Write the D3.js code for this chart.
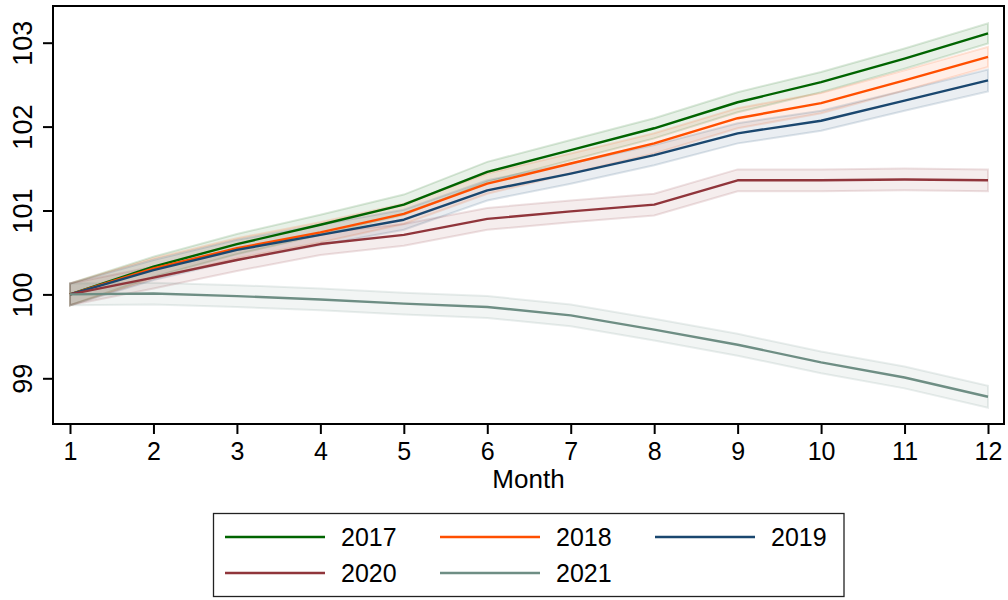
<!DOCTYPE html>
<html>
<head>
<meta charset="utf-8">
<script src="https://cdn.jsdelivr.net/npm/d3@7"></script>
<style>
  html, body { margin: 0; padding: 0; background: #fff; }
  svg { display: block; font-family: "Liberation Sans", Arial, sans-serif; }
</style>
</head>
<body>
<svg id="chart" width="1008" height="600"></svg>
<script>
// Monthly index (month 1 = 100) by year, with 95% confidence bands
const months = [1, 2, 3, 4, 5, 6, 7, 8, 9, 10, 11, 12];
const years = ["2017", "2018", "2019", "2020", "2021"];

const idx2017 = [100, 100.33, 100.60, 100.83, 101.07, 101.46, 101.72, 101.98, 102.29, 102.53, 102.81, 103.11];
const idx2018 = [100, 100.31, 100.55, 100.74, 100.96, 101.32, 101.56, 101.80, 102.10, 102.28, 102.55, 102.83];
const idx2019 = [100, 100.29, 100.53, 100.71, 100.89, 101.24, 101.44, 101.66, 101.92, 102.07, 102.31, 102.55];
const idx2020 = [100, 100.20, 100.41, 100.60, 100.71, 100.90, 100.99, 101.07, 101.36, 101.36, 101.37, 101.36];
const idx2021 = [100, 100.01, 99.98, 99.94, 99.89, 99.85, 99.75, 99.58, 99.40, 99.19, 99.01, 98.78];

// half-width of the confidence band around each point
const ci2017 = [0.13, 0.12, 0.12, 0.12, 0.12, 0.12, 0.12, 0.12, 0.12, 0.12, 0.12, 0.12];
const ci2018 = [0.13, 0.12, 0.12, 0.12, 0.12, 0.12, 0.12, 0.12, 0.12, 0.12, 0.12, 0.12];
const ci2019 = [0.13, 0.12, 0.12, 0.12, 0.12, 0.12, 0.12, 0.12, 0.12, 0.12, 0.12, 0.13];
const ci2020 = [0.13, 0.13, 0.13, 0.13, 0.13, 0.13, 0.13, 0.13, 0.13, 0.13, 0.13, 0.13];
const ci2021 = [0.13, 0.13, 0.13, 0.13, 0.13, 0.13, 0.13, 0.13, 0.13, 0.13, 0.13, 0.13];

const colors = ["#006400", "#ff4f00", "#1a476f", "#90353b", "#6e8e84"];
const yTicks = [99, 100, 101, 102, 103];

const seriesValues = [idx2017, idx2018, idx2019, idx2020, idx2021];
const seriesCI = [ci2017, ci2018, ci2019, ci2020, ci2021];
const series = years.map((yr, i) => ({
  name: yr,
  color: colors[i],
  points: months.map((m, j) => ({ m, v: seriesValues[i][j], lo: seriesValues[i][j] - seriesCI[i][j], hi: seriesValues[i][j] + seriesCI[i][j] }))
}));

const svg = d3.select("#chart");
const plot = { left: 53, right: 1004, top: 6, bottom: 424 };

const x = d3.scaleLinear().domain([1, 12]).range([70, 988]);
const y = d3.scaleLinear().domain([99, 103]).range([378.3, 42.7]);

// confidence bands
const area = d3.area().x(d => x(d.m)).y0(d => y(d.lo)).y1(d => y(d.hi));
svg.append("g").selectAll("path").data(series).join("path")
  .attr("d", d => area(d.points))
  .attr("fill", d => d.color)
  .attr("fill-opacity", 0.09)
  .attr("stroke", d => d.color)
  .attr("stroke-opacity", 0.15)
  .attr("stroke-width", 2);

// series lines
const line = d3.line().x(d => x(d.m)).y(d => y(d.v));
svg.append("g").selectAll("path").data(series).join("path")
  .attr("d", d => line(d.points))
  .attr("fill", "none")
  .attr("stroke", d => d.color)
  .attr("stroke-width", 2.4)
  .attr("stroke-linejoin", "round");

// plot frame
svg.append("rect")
  .attr("x", plot.left).attr("y", plot.top)
  .attr("width", plot.right - plot.left).attr("height", plot.bottom - plot.top)
  .attr("fill", "none").attr("stroke", "#000").attr("stroke-width", 2);

// y axis
const yAxis = svg.append("g")
  .attr("transform", `translate(${plot.left},0)`)
  .call(d3.axisLeft(y).tickValues(yTicks).tickSize(10).tickFormat(d3.format("d")));
yAxis.select(".domain").remove();
yAxis.selectAll(".tick line").attr("stroke", "#000").attr("stroke-width", 2);
yAxis.selectAll(".tick text")
  .attr("x", null).attr("dy", null)
  .attr("transform", "translate(-21,0) rotate(-90)")
  .attr("text-anchor", "middle")
  .attr("fill", "#000")
  .style("font-size", "27px")
  .style("font-family", "'Liberation Sans', Arial, sans-serif");

// x axis
const xAxis = svg.append("g")
  .attr("transform", `translate(0,${plot.bottom})`)
  .call(d3.axisBottom(x).tickValues(months).tickSize(10).tickFormat(d3.format("d")));
xAxis.select(".domain").remove();
xAxis.selectAll(".tick line").attr("stroke", "#000").attr("stroke-width", 2);
xAxis.selectAll(".tick text")
  .attr("y", 36).attr("dy", null)
  .attr("fill", "#000")
  .style("font-size", "25px")
  .style("font-family", "'Liberation Sans', Arial, sans-serif");

svg.append("text")
  .attr("x", (plot.left + plot.right) / 2).attr("y", 488)
  .attr("text-anchor", "middle")
  .style("font-size", "26px")
  .text("Month");

// legend
const legend = svg.append("g");
legend.append("rect")
  .attr("x", 213.5).attr("y", 513.5).attr("width", 630.5).attr("height", 83)
  .attr("fill", "#fff").attr("stroke", "#222").attr("stroke-width", 1.3);
const colX = [225, 440, 655];
const rowY = [537, 573];
const items = legend.selectAll("g.item").data(series).join("g")
  .attr("class", "item")
  .attr("transform", (d, i) => `translate(${colX[i % 3]},${rowY[Math.floor(i / 3)]})`);
items.append("line")
  .attr("x1", 0).attr("x2", 100)
  .attr("stroke", d => d.color).attr("stroke-width", 2.4);
items.append("text")
  .attr("x", 116).attr("y", 9)
  .style("font-size", "25px")
  .text(d => d.name);
</script>
</body>
</html>
